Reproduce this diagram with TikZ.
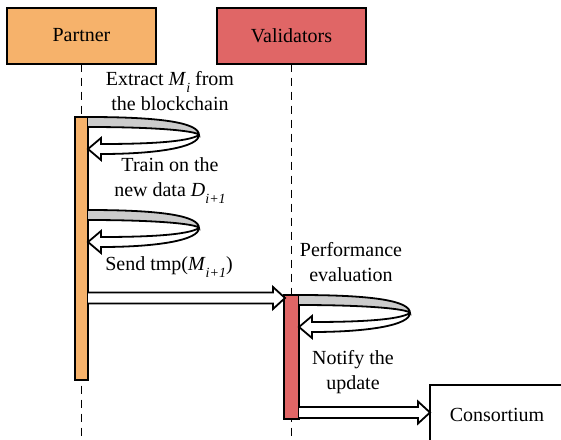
\documentclass[tikz,border=0pt]{standalone}
\usepackage{fontspec}
\setmainfont{Liberation Serif}
\usetikzlibrary{calc}
\definecolor{partnerc}{HTML}{F6B26B}
\definecolor{validc}{HTML}{E06666}
\newcommand{\lowsub}[1]{\raisebox{-0.75ex}{\fontsize{7}{8}\selectfont\textit{#1}}}
\tikzset{
  actor/.style={draw,line width=1pt,minimum width=74.5pt,minimum height=28pt,outer sep=0pt,font=\fontsize{10}{12.5}\selectfont},
  bar/.style={draw,line width=0.8pt,outer sep=0pt,inner sep=0pt},
  lifeline/.style={line width=0.8pt,dash pattern=on 4pt off 3pt},
  hollow/.style={draw,fill=white,line width=0.9pt,line join=miter},
  lbl/.style={align=center,font=\fontsize{10}{12.5}\selectfont},
  selfloop/.pic={
    \filldraw[hollow,fill=gray!40] (0,0) .. controls (75,0) and (111,6) .. (111,18)
      .. controls (109,14) and (70,10) .. (0,10);
    \filldraw[hollow] (111,18) .. controls (111,30) and (70,37) .. (13,37) -- (13,43) -- (0,32)
      -- (13,21) -- (13,27) .. controls (60,27) and (100,25) .. (111,18);
  }
}
% hollow block arrow: #1 start, #2 tip (same height)
\newcommand{\hollowarrow}[2]{%
  \filldraw[hollow] ($(#1)+(0,-5.5)$) -- ($(#2)+(-12,-5.5)$) -- ($(#2)+(-12,-11)$) -- (#2)
    -- ($(#2)+(-12,11)$) -- ($(#2)+(-12,5.5)$) -- ($(#1)+(0,5.5)$);}
\begin{document}
\begin{tikzpicture}[x=0.5pt,y=-0.5pt]
\useasboundingbox (0,0) rectangle (561,439);
\clip (0,0) rectangle (561,439);
%Actors
\node[actor,fill=partnerc] (partner) at (81.5,35.5) {Partner};
\node[actor,fill=validc] (valid) at (291.5,35.5) {Validators};
%Lifelines
\draw[lifeline] (partner.south) -- (partner.south |- 0,445);
\draw[lifeline] (valid.south) -- (valid.south |- 0,445);
%Activation bars
\node[bar,fill=partnerc,minimum width=6.5pt,minimum height=131.5pt] (pbar) at (81.5,248.5) {};
\node[bar,fill=validc,minimum width=7.5pt,minimum height=62pt] (vbar) at (291.5,357) {};
%Consortium
\node[draw,line width=0.9pt,anchor=north west,minimum width=67pt,minimum height=30pt,outer sep=0pt,
  font=\fontsize{10}{12.5}\selectfont] (consortium) at (430,385) {Consortium};
%Self messages
\pic at (pbar.north east) {selfloop};
\pic at ($(pbar.north east)+(0,93)$) {selfloop};
\pic at (vbar.north east) {selfloop};
\node[lbl] (extract) at (170,91) {Extract \textit{M}\lowsub{i} from\\the blockchain};
\node[lbl] (train) at (170,181) {Train on the\\new data \textit{D}\lowsub{i+1}};
\node[lbl] (perf) at (351,262) {Performance\\evaluation};
%Messages
\coordinate (sendtip) at (285,298);
\hollowarrow{pbar.east |- sendtip}{sendtip}
\node[lbl] (send) at (169,267) {Send tmp(\textit{M}\lowsub{i+1})};
\coordinate (notifytip) at ($(consortium.west)+(0,-2.5)$);
\hollowarrow{vbar.east |- notifytip}{notifytip}
\node[lbl] (notify) at (353,372) {Notify the\\update};
\end{tikzpicture}
\end{document}
